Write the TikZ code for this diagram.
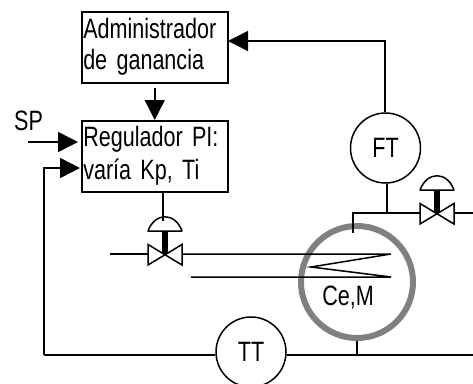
\documentclass[tikz,border=0pt]{standalone}
\usepackage{fontspec}
\setmainfont[FakeStretch=0.77,WordSpace=0.8]{Liberation Sans}
\usetikzlibrary{arrows.meta}
\tikzset{
  x=1pt,y=-1pt,
  line/.style={line width=1.5pt,draw=black},
  head/.style={-{Triangle[length=20pt,width=20pt]}},
  boxnode/.style={draw=black,line width=1.5pt,minimum width=146pt,minimum height=71pt,inner sep=0pt,anchor=north west,align=left,text width=143pt},
  inst/.style={circle,draw=black,line width=1.5pt,minimum size=70pt,inner sep=0pt,font=\fontsize{28}{30}\selectfont},
  plain/.style={inner sep=0pt,font=\fontsize{28}{30}\selectfont},
  vessel/.style={circle,draw=black!50,line width=6pt,minimum size=112pt,inner sep=0pt},
}
\newcommand{\valvebody}[1]{%
  \draw[line,fill=white,line join=miter] ([shift={(-17,-9.5)}]#1) -- ([shift={(-17,11)}]#1) -- ([shift={(17,-9.5)}]#1) -- ([shift={(17,11)}]#1) -- cycle;
  \draw[line width=5.5pt] ([shift={(0,-23)}]#1) -- (#1);
  \draw[line,line join=round] ([shift={(-17,-23)}]#1) .. controls ([shift={(-10,-42)}]#1) and ([shift={(10,-42)}]#1) .. ([shift={(17,-23)}]#1) -- cycle;
}
\begin{document}
\begin{tikzpicture}
\useasboundingbox (0,0) rectangle (473,383);
\node[boxnode,font=\fontsize{28}{31}\selectfont] (admin) at (81,11) {Administrador\\de ganancia};
\node[boxnode,font=\fontsize{28}{33}\selectfont] (reg) at (81,120) {Regulador PI:\\varía Kp, Ti};
\node[plain,anchor=base west] (sp) at (14,130) {SP};
\node[inst] (ft) at (385.5,148) {FT};
\node[inst] (tt) at (251,352) {TT};
\node[vessel] (ves) at (357,282) {};
\node[plain] (cem) at (348,298) {Ce,M};

\coordinate (v1) at (165,254);
\coordinate (v2) at (437,213);
\coordinate (spstart) at (28,142);
\coordinate (spend) at (78,142);
\coordinate (fbend) at (80,168);
\coordinate (fbcorner) at (44,168);
\coordinate (fbbottom) at (44,355);
\coordinate (ttr) at (473,355);
\coordinate (ftin) at (228,41);
\coordinate (ftcorner) at (385,41);
\coordinate (tee) at (387,213);
\coordinate (top) at (353,233);
\coordinate (topc) at (353,213);
\coordinate (vtee) at (357,355);
\coordinate (v1l) at (110,254);
\coordinate (z1) at (391,254);
\coordinate (z2) at (311,267);
\coordinate (z3) at (391,277);
\coordinate (z4) at (191,277);
\coordinate (v2r) at (473,213);

% process lines
\draw[line] (v1l) -- (v1);
\draw[line,line join=miter] (v1) -- (z1) -- (z2) -- (z3) -- (z4);
\draw[line] (top) -- (topc) -- (v2) -- (v2r);
\draw[line] (ves.south) -- (vtee);
\draw[line] (ft.south -| tee) -- (tee);
\draw[line] (fbbottom) -- (tt.west |- fbbottom);
\draw[line] (tt.east |- ttr) -- (ttr);
% signals
\draw[line,head] (admin.south) ++(0,4) -- (reg.north);
\draw[line,head] (spstart) -- (spend);
\draw[line,head] (fbbottom) -- (fbcorner) -- (fbend);
\draw[line,head] (ft.north -| ftcorner) -- (ftcorner) -- (ftin);
\draw[line] (reg.south -| v1) ++(-2,0) -- ++(0,28);
\valvebody{v1}
\valvebody{v2}
\end{tikzpicture}
\end{document}
